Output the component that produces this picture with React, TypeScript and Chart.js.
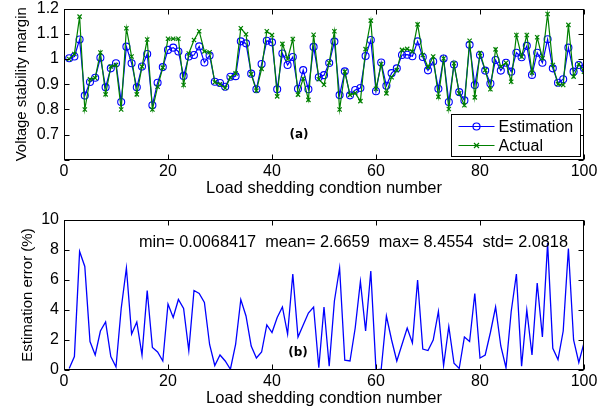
import React, { useEffect, useRef } from 'react';
import { Chart, registerables } from 'chart.js';

Chart.register(...registerables);

const conditionNumbers = Array.from({ length: 100 }, (_, i) => i + 1);

const estimation = [
  1.003, 1.01, 1.077, 0.855, 0.909, 0.926, 1.005, 0.888, 0.963, 0.983,
  0.83, 1.049, 0.983, 0.888, 0.97, 1.02, 0.817, 0.906, 0.968, 1.036,
  1.045, 1.03, 0.933, 1.01, 1.016, 1.05, 0.986, 1.014, 0.91, 0.905,
  0.89, 0.93, 0.932, 1.07, 1.062, 0.942, 0.88, 0.98, 1.072, 1.066,
  0.88, 1.022, 0.976, 1.008, 0.882, 0.956, 0.88, 1.048, 0.928, 0.936,
  0.984, 1.069, 0.857, 0.951, 0.856, 0.877, 0.885, 1.012, 1.075, 0.872,
  0.986, 0.894, 0.944, 0.963, 1.016, 1.017, 1.011, 1.07, 1.008, 0.955,
  0.99, 0.882, 1.002, 0.83, 0.978, 0.869, 0.836, 1.056, 0.897, 1.016,
  0.954, 0.903, 0.996, 0.954, 0.985, 0.95, 1.025, 1.007, 1.052, 0.937,
  1.025, 0.985, 1.078, 0.963, 0.906, 0.92, 1.045, 0.95, 0.976, 0.963,
];

const actual = [
  1.0, 1.02, 1.168, 0.8, 0.92, 0.925, 1.026, 0.86, 0.97, 0.976,
  0.8, 1.122, 1.01, 0.86, 0.97, 1.077, 0.8, 0.89, 0.966, 1.08,
  1.08, 1.08, 0.897, 1.022, 1.075, 1.11, 1.03, 1.027, 0.908, 0.9,
  0.885, 0.927, 0.943, 1.122, 1.098, 0.94, 0.874, 0.961, 1.11, 1.095,
  0.852, 1.06, 1.0, 1.079, 0.859, 0.923, 0.838, 1.096, 0.92, 0.898,
  0.985, 1.11, 0.8, 0.95, 0.858, 0.865, 0.833, 1.039, 1.152, 0.882,
  0.98, 0.864, 0.928, 0.956, 1.036, 1.04, 1.03, 1.137, 1.016, 0.968,
  1.01, 0.85, 1.002, 0.802, 0.983, 0.864, 0.817, 1.072, 0.848, 1.024,
  0.956, 0.88, 1.038, 0.97, 0.985, 0.91, 1.095, 1.009, 1.095, 0.946,
  1.086, 1.003, 1.178, 0.976, 0.9, 0.897, 1.135, 0.93, 0.98, 0.95,
];

const estimationError = [
  0.1, 0.9, 7.9, 6.9, 1.9, 1.0, 2.6, 3.2, 0.9, 0.2,
  4.1, 6.8, 2.4, 3.2, 1.0, 5.3, 1.5, 1.2, 0.6, 4.4,
  3.5, 4.7, 4.1, 1.3, 5.3, 5.1, 4.5, 1.7, 0.3, 1.0,
  0.6, 0.05, 1.7, 4.7, 3.6, 1.6, 0.8, 1.2, 3.0, 2.5,
  3.5, 4.2, 2.4, 6.4, 2.2, 3.0, 3.8, 4.2, 0.15, 4.2,
  0.25, 4.6, 6.8, 0.65, 0.6, 2.8, 5.9, 2.6, 6.6, 0.0068,
  0.05, 3.6, 2.0, 0.6, 1.7, 2.8, 1.8, 6.0, 1.4, 1.3,
  2.0, 3.9, 0.3, 2.9, 0.45, 0.1, 2.2, 1.9, 5.1, 0.8,
  1.0, 2.5, 4.2, 1.6, 0.15, 3.9, 6.4, 0.25, 4.0, 1.0,
  5.8, 2.2, 8.46, 1.45, 0.7, 2.6, 8.1, 2.0, 0.5, 1.8,
];

const xTickValues = [0, 20, 40, 60, 80, 100];
const marginTickValues = [0.6, 0.7, 0.8, 0.9, 1.0, 1.1, 1.2];
const marginTickLabels = ['', '0.7', '0.8', '0.9', '1', '1.1', '1.2'];
const errorTickValues = [0, 2, 4, 6, 8, 10];
const errorTickLabels = ['0', '2', '4', '6', '8', '10'];

const seriesNames = ['Estimation', 'Actual'];
const xTitle = 'Load shedding condtion number';
const marginTitle = 'Voltage stability margin';
const errorTitle = 'Estimation error (%)';
const statsText = 'min= 0.0068417  mean= 2.6659  max= 8.4554  std= 2.0818';
const panelLabels = ['(a)', '(b)'];

const FONT = '"Liberation Sans", Arial, Helvetica, sans-serif';
const BLUE = '#0000ff';
const GREEN = '#008000';

const framePlugin = {
  id: 'frame',
  afterDraw(chart: any) {
    const { ctx, chartArea: a, scales } = chart;
    ctx.save();
    ctx.strokeStyle = '#000';
    ctx.lineWidth = 1;
    const L = Math.round(a.left) + 0.5;
    const R = Math.round(a.right) - 0.5;
    const T = Math.round(a.top) + 0.5;
    const B = Math.round(a.bottom) - 0.5;
    ctx.strokeRect(L, T, R - L, B - T);
    const tl = 5;
    ctx.beginPath();
    scales.x.ticks.forEach((t: any) => {
      const px = Math.round(scales.x.getPixelForValue(t.value)) + 0.5;
      ctx.moveTo(px, B); ctx.lineTo(px, B - tl);
      ctx.moveTo(px, T); ctx.lineTo(px, T + tl);
    });
    scales.y.ticks.forEach((t: any) => {
      const py = Math.round(scales.y.getPixelForValue(t.value)) + 0.5;
      ctx.moveTo(L, py); ctx.lineTo(L + tl, py);
      ctx.moveTo(R, py); ctx.lineTo(R - tl, py);
    });
    ctx.stroke();
    ctx.restore();
  },
};

const textPlugin = {
  id: 'notes',
  afterDraw(chart: any, _args: any, opts: any) {
    const { ctx, scales } = chart;
    ctx.save();
    (opts.items || []).forEach((it: any) => {
      ctx.font = it.font;
      ctx.fillStyle = '#000';
      ctx.textAlign = it.align || 'center';
      ctx.textBaseline = 'middle';
      ctx.fillText(it.text, scales.x.getPixelForValue(it.x), scales.y.getPixelForValue(it.y));
    });
    ctx.restore();
  },
};

const legendPlugin = {
  id: 'boxLegend',
  afterDraw(chart: any) {
    const { ctx, chartArea: a } = chart;
    const w = 129, h = 42;
    const left = Math.round(a.right) - 4 - w + 0.5;
    const top = Math.round(a.bottom) - 4 - h + 0.5;
    ctx.save();
    ctx.fillStyle = '#fff';
    ctx.fillRect(left, top, w, h);
    ctx.strokeStyle = '#000';
    ctx.lineWidth = 1;
    ctx.strokeRect(left, top, w, h);
    const rows = [chart.data.datasets[1], chart.data.datasets[0]];
    rows.forEach((ds: any, i: number) => {
      const cy = top + 12 + i * 19;
      ctx.strokeStyle = ds.borderColor;
      ctx.lineWidth = ds.borderWidth;
      ctx.beginPath();
      ctx.moveTo(left + 7, cy);
      ctx.lineTo(left + 43, cy);
      ctx.stroke();
      const cx = left + 25;
      ctx.beginPath();
      if (ds.pointStyle === 'circle') {
        ctx.arc(cx, cy, 3.5, 0, Math.PI * 2);
      } else {
        const r = 2.5;
        ctx.moveTo(cx - r, cy - r); ctx.lineTo(cx + r, cy + r);
        ctx.moveTo(cx - r, cy + r); ctx.lineTo(cx + r, cy - r);
      }
      ctx.stroke();
      ctx.fillStyle = '#000';
      ctx.font = `16px ${FONT}`;
      ctx.textAlign = 'left';
      ctx.textBaseline = 'middle';
      ctx.fillText(ds.label, left + 47, cy + 1);
    });
    ctx.restore();
  },
};

function xScale(labelPad: number, titlePad: number, height: number) {
  return {
    type: 'linear',
    min: 0,
    max: 100,
    afterBuildTicks: (s: any) => { s.ticks = xTickValues.map((v) => ({ value: v })); },
    afterFit: (s: any) => { s.height = height; s.paddingLeft = 0; s.paddingRight = 0; },
    grid: { display: false, drawTicks: false },
    border: { display: false },
    ticks: {
      color: '#000',
      padding: labelPad,
      maxRotation: 0,
      autoSkip: false,
      font: { family: FONT, size: 16, lineHeight: 1.2 },
      callback: (v: any) => String(v),
    },
    title: {
      display: true,
      text: xTitle,
      color: '#000',
      font: { family: FONT, size: 16.5, lineHeight: 1.2 },
      padding: { top: 0, bottom: titlePad },
    },
  };
}

function yScale(min: number, max: number, values: number[], labels: string[], title: string, titlePad: number) {
  return {
    type: 'linear',
    min,
    max,
    afterBuildTicks: (s: any) => { s.ticks = values.map((v) => ({ value: v })); },
    afterFit: (s: any) => { s.width = 64; s.paddingTop = 0; s.paddingBottom = 0; },
    grid: { display: false, drawTicks: false },
    border: { display: false },
    ticks: {
      color: '#000',
      padding: 5,
      autoSkip: false,
      font: { family: FONT, size: 16, lineHeight: 1.2 },
      callback: (v: any) => {
        const k = values.findIndex((t) => Math.abs(t - v) < 1e-9);
        return k >= 0 ? labels[k] : '';
      },
    },
    title: {
      display: true,
      text: title,
      color: '#000',
      font: { family: FONT, size: 15, lineHeight: 1.2 },
      padding: { top: titlePad, bottom: 0 },
    },
  };
}

export default function App() {
  const topRef = useRef<HTMLCanvasElement>(null);
  const botRef = useRef<HTMLCanvasElement>(null);

  useEffect(() => {
    const top = new Chart(topRef.current as HTMLCanvasElement, {
      type: 'line',
      data: {
        datasets: [
          {
            label: seriesNames[1],
            data: conditionNumbers.map((n, i) => ({ x: n, y: actual[i] })),
            borderColor: GREEN,
            backgroundColor: GREEN,
            borderWidth: 1.2,
            pointStyle: 'crossRot',
            pointRadius: 3,
            pointBorderWidth: 1.2,
            pointBorderColor: GREEN,
            tension: 0,
            fill: false,
          },
          {
            label: seriesNames[0],
            data: conditionNumbers.map((n, i) => ({ x: n, y: estimation[i] })),
            borderColor: BLUE,
            backgroundColor: 'rgba(0,0,0,0)',
            borderWidth: 1.2,
            pointStyle: 'circle',
            pointRadius: 3.5,
            pointBorderWidth: 1.1,
            pointBorderColor: BLUE,
            pointBackgroundColor: 'rgba(0,0,0,0)',
            tension: 0,
            fill: false,
          },
        ],
      },
      options: {
        responsive: false,
        animation: false,
        devicePixelRatio: 1,
        layout: { padding: { top: 8.5, right: 25, left: 0, bottom: 0 } },
        scales: {
          x: xScale(1.7, 11.7, 50),
          y: yScale(0.6, 1.2, marginTickValues, marginTickLabels, marginTitle, 13),
        } as any,
        plugins: {
          legend: { display: false },
          tooltip: { enabled: false },
          notes: {
            items: [
              { text: panelLabels[0], x: 45.2, y: 0.698, font: `bold 12px "DejaVu Sans", sans-serif` },
            ],
          },
        } as any,
      },
      plugins: [framePlugin, textPlugin, legendPlugin],
    } as any);

    const bot = new Chart(botRef.current as HTMLCanvasElement, {
      type: 'line',
      data: {
        datasets: [
          {
            label: 'Estimation error',
            data: conditionNumbers.map((n, i) => ({ x: n, y: estimationError[i] })),
            borderColor: BLUE,
            borderWidth: 1.3,
            pointRadius: 0,
            tension: 0,
            fill: false,
          },
        ],
      },
      options: {
        responsive: false,
        animation: false,
        devicePixelRatio: 1,
        layout: { padding: { top: 10, right: 25, left: 0, bottom: 0 } },
        scales: {
          x: xScale(1.9, 4.4, 43),
          y: yScale(0, 10, errorTickValues, errorTickLabels, errorTitle, 19),
        } as any,
        plugins: {
          legend: { display: false },
          tooltip: { enabled: false },
          notes: {
            items: [
              { text: statsText, x: 14.4, y: 8.47, align: 'left', font: `16.3px ${FONT}` },
              { text: panelLabels[1], x: 45, y: 1.13, font: `bold 12px "DejaVu Sans", sans-serif` },
            ],
          },
        } as any,
      },
      plugins: [framePlugin, textPlugin],
    } as any);

    return () => {
      top.destroy();
      bot.destroy();
    };
  }, []);

  return (
    <div style={{ position: 'fixed', left: 0, top: 0, width: 609, height: 413, background: '#fff' }}>
      <canvas ref={topRef} width={609} height={210} style={{ position: 'absolute', left: 0, top: 0, width: 609, height: 210 }} />
      <canvas ref={botRef} width={609} height={203} style={{ position: 'absolute', left: 0, top: 210, width: 609, height: 203 }} />
    </div>
  );
}
